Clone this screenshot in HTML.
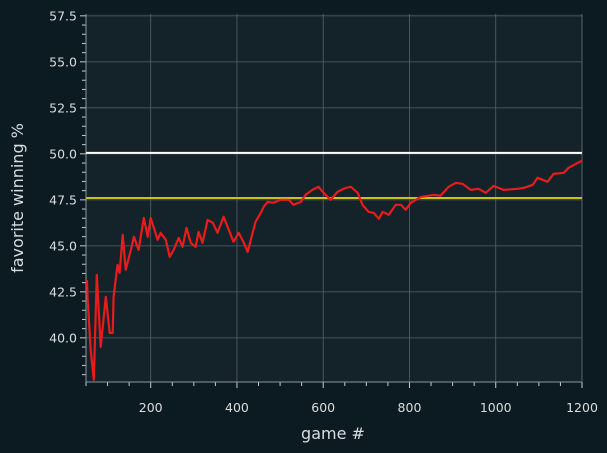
<!DOCTYPE html>
<html><head><meta charset="utf-8"><style>
body{margin:0;background:#0c1b22;}
svg{display:block;font-family:"DejaVu Sans","Liberation Sans",sans-serif;}
</style></head><body>
<svg id="chart" width="607" height="453">
<rect width="607" height="453" fill="#0c1b22"/>
<rect x="86" y="14" width="496" height="368" fill="#14222a"/>
<g id="grid"></g><g id="axes"></g><g id="series"></g>
<text x="333" y="439" fill="#d8dde0" font-size="16" text-anchor="middle">game #</text>
<text x="23" y="198" fill="#d8dde0" font-size="16" text-anchor="middle" transform="rotate(-90 23 198)">favorite winning %</text>
</svg>
<script>
const games=[52,54,61,68,75,84,96,105,112,114,123,128,135,142,154,161,172,184,193,200,216,223,235,244,253,265,274,283,293,304,311,320,332,344,355,369,381,392,404,416,425,432,443,455,462,471,485,501,520,531,548,559,575,589,601,617,633,652,664,680,691,705,717,729,738,752,768,780,791,803,826,856,872,891,907,923,942,960,977,995,1018,1051,1065,1086,1097,1120,1134,1158,1169,1190,1200];
const winPct=[43.15,42.07,39.35,37.72,43.42,39.51,42.23,40.27,40.27,42.23,43.97,43.53,45.6,43.7,44.78,45.49,44.78,46.52,45.49,46.52,45.33,45.71,45.33,44.4,44.78,45.43,44.95,45.98,45.16,44.95,45.76,45.16,46.41,46.25,45.71,46.58,45.87,45.22,45.71,45.16,44.67,45.33,46.3,46.79,47.12,47.39,47.34,47.5,47.5,47.23,47.39,47.77,48.04,48.21,47.88,47.5,47.93,48.15,48.21,47.88,47.23,46.85,46.79,46.47,46.85,46.68,47.23,47.23,46.96,47.34,47.66,47.77,47.72,48.21,48.42,48.37,48.04,48.1,47.88,48.26,48.04,48.1,48.15,48.32,48.7,48.48,48.91,48.97,49.24,49.51,49.62];
const refWhite=50.05, refYellow=47.6;
const xTicks=[200,400,600,800,1000,1200];
const yTicks=[40.0,42.5,45.0,47.5,50.0,52.5,55.0,57.5];
const X0=86,X1=582,Y0=14,Y1=382,xmin=50,xmax=1200,ymin=37.6,ymax=57.6;
const xs=v=>X0+(v-xmin)/(xmax-xmin)*(X1-X0);
const ys=v=>Y1-(v-ymin)/(ymax-ymin)*(Y1-Y0);
const NS="http://www.w3.org/2000/svg";
function mk(t,a,p){const e=document.createElementNS(NS,t);for(const k in a)e.setAttribute(k,a[k]);p.appendChild(e);return e;}
const grid=document.getElementById('grid'),axes=document.getElementById('axes'),ser=document.getElementById('series');
xTicks.forEach(t=>{const x=xs(t);
 const g=mk('line',{x1:x,x2:x,y1:Y0,y2:Y1,stroke:'#56636a','stroke-width':0.8},grid);
 
 
 const tk=mk('line',{x1:x,x2:x,y1:Y1,y2:Y1+6,stroke:'#c8cdd0','stroke-width':1},axes);
 
 
 const l=mk('text',{x:x,y:Y1+30,fill:'#d8dde0','font-size':12.5,'text-anchor':'middle'},axes);l.textContent=t;
 
 });
for(let v=50;v<=1200;v+=50){if(v%200===0)continue;const x=xs(v);
 const m=mk('line',{x1:x,x2:x,y1:Y1,y2:Y1+4,stroke:'#c8cdd0','stroke-width':1},axes);
 
 }
yTicks.forEach(t=>{const y=ys(t);
 const g=mk('line',{x1:X0,x2:X1,y1:y,y2:y,stroke:'#56636a','stroke-width':0.8},grid);
 
 
 const tk=mk('line',{x1:X0-6,x2:X0,y1:y,y2:y,stroke:'#c8cdd0','stroke-width':1},axes);
 
 
 const l=mk('text',{x:X0-9,y:y+4.5,fill:'#d8dde0','font-size':12.5,'text-anchor':'end'},axes);l.textContent=t.toFixed(1);
 
 });
for(let v=38;v<=57.5;v+=0.5){if(Math.abs((v*10)%25)<0.01)continue;const y=ys(v);
 const m=mk('line',{x1:X0-4,x2:X0,y1:y,y2:y,stroke:'#c8cdd0','stroke-width':1},axes);
 
 }
const sl=mk('line',{x1:X0,x2:X0,y1:Y0,y2:Y1,stroke:'#8a969c','stroke-width':1},axes);


const sb=mk('line',{x1:X0,x2:X1,y1:Y1,y2:Y1,stroke:'#8a969c','stroke-width':1},axes);


const sr=mk('line',{x1:X1,x2:X1,y1:Y0,y2:Y1,stroke:'#56636a','stroke-width':1},axes);


const w=mk('line',{x1:X0,x2:X1,y1:ys(refWhite),y2:ys(refWhite),stroke:'#ffffff','stroke-width':2},ser);


const yl=mk('line',{x1:X0,x2:X1,y1:ys(refYellow),y2:ys(refYellow),stroke:'#c8c414','stroke-width':2},ser);


const d=games.map((g,i)=>(i?'L':'M')+xs(g).toFixed(1)+','+ys(winPct[i]).toFixed(1)).join('');
const p=mk('path',{d:d,fill:'none',stroke:'#e81c1c','stroke-width':2.2,'stroke-linejoin':'round'},ser);


</script>
</body></html>
